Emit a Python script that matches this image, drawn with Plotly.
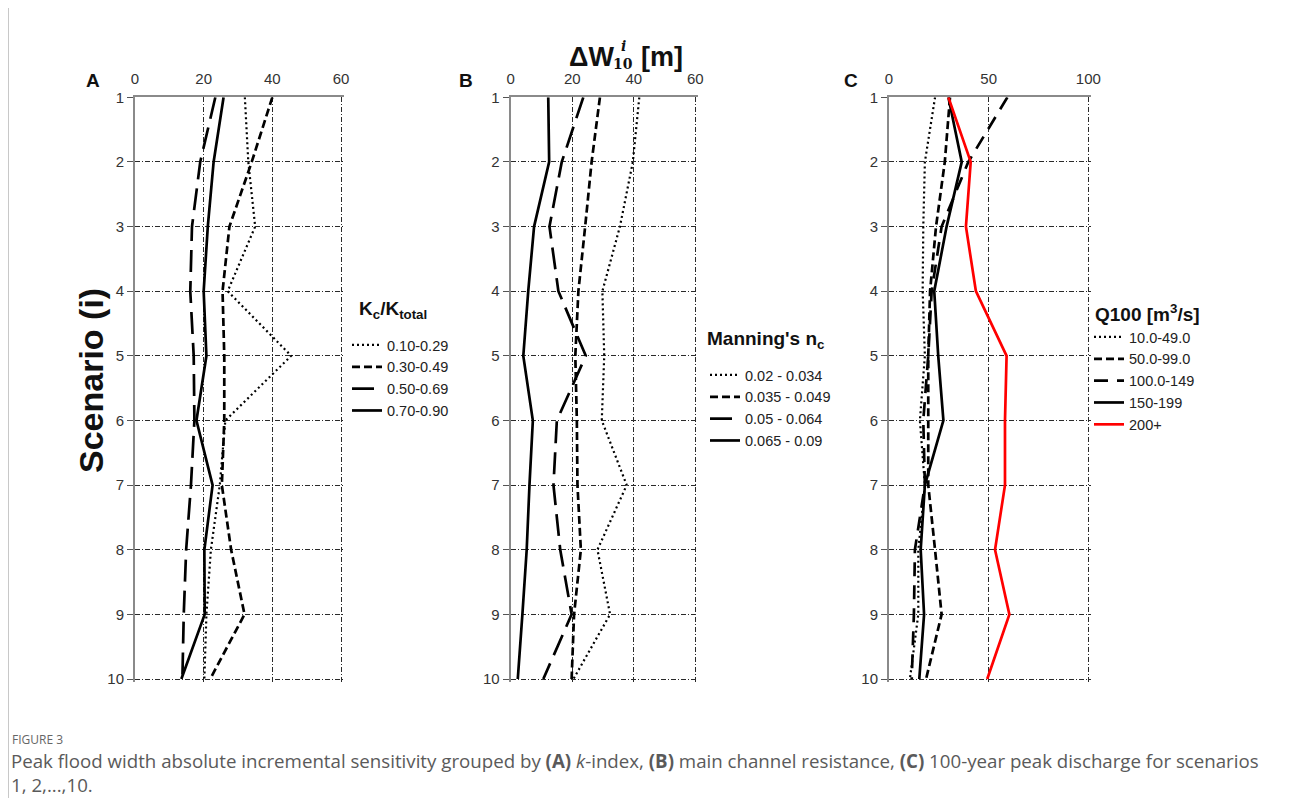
import plotly.graph_objects as go

W, H = 1290, 798
OFF = 8  # page body margin in the browser

scenarios = [1, 2, 3, 4, 5, 6, 7, 8, 9, 10]
scenario_ticks = ["1", "2", "3", "4", "5", "6", "7", "8", "9", "10"]

# Panel A: Kc/Ktotal groups
a_names = ["0.10-0.29", "0.30-0.49", "0.50-0.69", "0.70-0.90"]
a_010_029 = [32.0, 33.0, 35.0, 27.0, 45.5, 26.3, 24.7, 22.1, 20.8, 20.2]
a_030_049 = [40.0, 34.0, 27.5, 25.5, 26.0, 26.0, 25.3, 28.0, 31.9, 21.9]
a_050_069 = [23.4, 19.0, 16.6, 16.1, 17.1, 17.3, 16.3, 14.9, 14.2, 13.8]
a_070_090 = [25.8, 22.9, 21.2, 20.0, 20.8, 17.9, 22.6, 20.2, 20.3, 13.5]

# Panel B: Manning's n_c groups
b_names = ["0.02 - 0.034", "0.035 - 0.049", "0.05 - 0.064", "0.065 - 0.09"]
b_002_0034 = [41.8, 39.7, 35.5, 29.8, 30.4, 29.6, 37.7, 28.2, 32.3, 20.4]
b_0035_0049 = [29.0, 26.3, 24.2, 22.0, 21.0, 21.5, 21.7, 22.8, 20.6, 19.8]
b_005_0064 = [23.6, 16.6, 12.6, 15.5, 24.4, 15.0, 13.9, 16.1, 19.8, 10.6]
b_0065_009 = [12.2, 12.5, 7.6, 5.7, 4.1, 7.2, 6.1, 5.2, 3.8, 2.3]

# Panel C: Q100 groups
c_names = ["10.0-49.0", "50.0-99.0", "100.0-149", "150-199", "200+"]
c_10_49 = [23.1, 18.0, 17.2, 16.9, 18.0, 15.5, 18.0, 14.7, 14.7, 10.5]
c_50_99 = [30.6, 28.0, 23.6, 20.6, 19.7, 19.7, 19.7, 23.1, 26.4, 18.6]
c_100_149 = [59.4, 39.8, 26.4, 21.4, 19.7, 17.2, 18.0, 13.0, 12.5, 11.4]
c_150_199 = [29.8, 36.5, 28.9, 22.7, 24.7, 27.3, 18.0, 15.9, 17.6, 15.2]
c_200 = [29.8, 41.0, 38.6, 43.6, 59.0, 58.2, 58.2, 53.2, 60.4, 49.3]

x_ticks_ab = [0, 20, 40, 60]
x_ticks_c = [0, 50, 100]

FONT = "Liberation Sans, Arial, sans-serif"
DOT = "2px,3px"
DASH = "8px,4px"
LONG = "22px,9px"
LONG_C = "14px,9px"

styles_4 = [
    dict(dash=DOT, width=2.2, color="black"),
    dict(dash=DASH, width=2.7, color="black"),
    dict(dash=LONG, width=2.7, color="black"),
    dict(dash="solid", width=2.7, color="black"),
]
styles_5 = [
    dict(dash=DOT, width=2.2, color="black"),
    dict(dash=DASH, width=2.7, color="black"),
    dict(dash=LONG_C, width=2.7, color="black"),
    dict(dash="solid", width=2.7, color="black"),
    dict(dash="solid", width=2.7, color="#ff0000"),
]

fig = go.Figure()

panels = [
    ("x", "y", "legend", a_names, [a_010_029, a_030_049, a_050_069, a_070_090], styles_4),
    ("x2", "y2", "legend2", b_names, [b_002_0034, b_0035_0049, b_005_0064, b_0065_009], styles_4),
    ("x3", "y3", "legend3", c_names, [c_10_49, c_50_99, c_100_149, c_150_199, c_200], styles_5),
]
for xa, ya, lg, names, series, styles in panels:
    for i, (nm, vals, st) in enumerate(zip(names, series, styles)):
        fig.add_trace(go.Scatter(
            x=vals, y=scenarios, mode="lines", name=nm,
            line=st, xaxis=xa, yaxis=ya, legend=lg,
            legendgroup=f"{lg}_{i}", showlegend=True, cliponaxis=False,
            hoverinfo="skip",
        ))

def px_x(p):
    return (p - OFF) / W

def px_y(p):
    return 1 - (p - OFF) / H

# small extension past the last tick so the edge grid lines stay visible
EXT = 3
y_top, y_bot = 97.3, 679.0
y_per = (y_bot - y_top) / 9.0
y_dom = [px_y(y_bot + EXT), px_y(y_top)]
y_range = [10 + EXT / y_per, 1]

grid_common = dict(
    showgrid=True, gridcolor="#2a2a2a", gridwidth=1, griddash="5px,2px,1px,2px",
    showline=True, linecolor="#8a8a8a", linewidth=2, zeroline=False, automargin=False,
    tickfont=dict(family=FONT, size=15, color="#333333"),
)

x_px = [(135.0, 341.0), (510.7, 695.3), (889.0, 1088.3)]
x_max = [60, 60, 100]
x_tv = [x_ticks_ab, x_ticks_ab, x_ticks_c]
for k in range(3):
    sx = "" if k == 0 else str(k + 1)
    x0p, x1p = x_px[k]
    per = (x1p - x0p) / x_max[k]
    fig.update_layout(**{
        f"xaxis{sx}": dict(
            domain=[px_x(x0p), px_x(x1p + EXT)], range=[0, x_max[k] + EXT / per], side="top",
            tickvals=x_tv[k], ticktext=[str(v) for v in x_tv[k]],
            ticks="", ticklabelstandoff=5, anchor=f"y{sx}", **grid_common),
        f"yaxis{sx}": dict(
            domain=y_dom, range=y_range, tickvals=scenarios, ticktext=scenario_ticks,
            ticks="outside", ticklen=6, tickcolor="#555555", tickwidth=1,
            anchor=f"x{sx}", **grid_common),
    })

leg_common = dict(
    font=dict(family=FONT, size=14.5, color="#222222"),
    bgcolor="rgba(0,0,0,0)", itemwidth=30, xanchor="left", yanchor="top",
    tracegroupgap=0, itemclick=False, itemdoubleclick=False,
)
fig.update_layout(
    legend=dict(x=px_x(347), y=px_y(329), **leg_common),
    legend2=dict(x=px_x(705), y=px_y(359), **leg_common),
    legend3=dict(x=px_x(1089), y=px_y(321), **leg_common),
)

ann = []
def add_text(text, x, y, size, xanchor="center", yanchor="middle", angle=0,
             color="#111111", family=FONT, align="center"):
    ann.append(dict(text=text, x=px_x(x), y=px_y(y), xref="paper", yref="paper",
                    xanchor=xanchor, yanchor=yanchor, showarrow=False, textangle=angle,
                    align=align, borderpad=0,
                    font=dict(family=family, size=size, color=color)))

# legend titles
add_text("<b>K<sub>c</sub>/K<sub>total</sub></b>", 358, 310, 19, xanchor="left")
add_text("<b>Manning's n<sub>c</sub></b>", 706, 340, 19, xanchor="left")
add_text("<b>Q100 [m<sup>3</sup>/s]</b>", 1094, 313, 19, xanchor="left")

# panel letters
add_text("<b>A</b>", 93, 80, 19)
add_text("<b>B</b>", 466, 80, 19)
add_text("<b>C</b>", 851, 80, 19)

# top title
add_text("<b>ΔW</b>", 615, 57, 27, xanchor="right")
add_text("<b><i>i</i></b>", 623, 46, 14, family="DejaVu Serif, serif")
add_text("<b>10</b>", 623, 64, 14, family="DejaVu Serif, serif")
add_text("<b>[m]</b>", 640, 57, 27, xanchor="left")

# y title
add_text("<b>Scenario (i)</b>", 91, 381, 34, angle=-90)

# caption
CAP = "Open Sans, Lato, sans-serif"
add_text("FIGURE 3", 11, 739, 12, xanchor="left", color="#666666", family=CAP)
add_text("Peak flood width absolute incremental sensitivity grouped by <b>(A)</b> <i>k</i>-index, "
         "<b>(B)</b> main channel resistance, <b>(C)</b> 100-year peak discharge for scenarios"
         "<br>1, 2,...,10.",
         10, 798, 18.7, xanchor="left", yanchor="bottom", color="#5a5a5a", family=CAP,
         align="left")

fig.update_layout(
    annotations=ann,
    width=W, height=H,
    margin=dict(l=0, r=0, t=0, b=0, autoexpand=False),
    paper_bgcolor="white", plot_bgcolor="white",
    font=dict(family=FONT),
    shapes=[
        dict(type="line", xref="paper", yref="paper",
             x0=px_x(8.5), x1=px_x(8.5), y0=0, y1=1,
             line=dict(color="#c8c8c8", width=1)),
        dict(type="line", xref="paper", yref="paper",
             x0=px_x(1286.5), x1=px_x(1286.5), y0=0, y1=1,
             line=dict(color="#c8c8c8", width=1)),
    ],
)

fig.write_html("out.html")
